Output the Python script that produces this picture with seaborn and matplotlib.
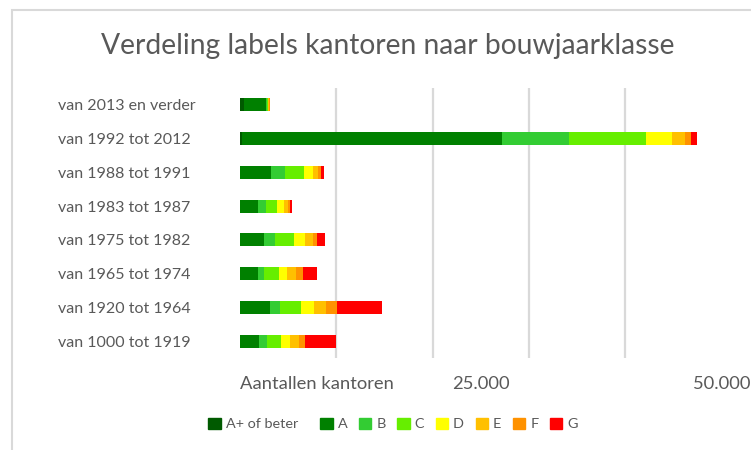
import numpy as np
import pandas as pd
import seaborn as sns
import matplotlib
matplotlib.use('Agg')
import matplotlib.pyplot as plt
from matplotlib.patches import Rectangle

categories = ['van 2013 en verder', 'van 1992 tot 2012', 'van 1988 tot 1991', 'van 1983 tot 1987',
              'van 1975 tot 1982', 'van 1965 tot 1974', 'van 1920 tot 1964', 'van 1000 tot 1919']
labels = ['A+ of beter', 'A', 'B', 'C', 'D', 'E', 'F', 'G']
colors = ['#005a00', '#008000', '#33cc33', '#66ee00', '#ffff00', '#ffc000', '#ff9200', '#ff0000']

a_plus = [415, 200, 0, 0, 0, 0, 0, 0]
a = [2280, 27020, 3220, 1870, 2490, 1870, 3110, 1970]
b = [140, 6950, 1480, 830, 1170, 620, 1040, 800]
c = [70, 7990, 1940, 1170, 1900, 1520, 2180, 1480]
d = [30, 2730, 970, 700, 1140, 900, 1310, 970]
e = [100, 1320, 520, 450, 860, 900, 1280, 930]
f = [50, 620, 280, 180, 415, 690, 1110, 650]
g = [20, 620, 340, 180, 860, 1450, 4670, 3210]

tick_vals = [0, 25000, 50000]
tick_text = ['Aantallen kantoren', '25.000', '50.000']

sns.set_style('white')
plt.rcParams['font.family'] = ['Lato', 'DejaVu Sans']
txt = '#595959'

df = pd.DataFrame(dict(zip(labels, [a_plus, a, b, c, d, e, f, g])), index=categories)
cum = df.cumsum(axis=1)

fig = plt.figure(figsize=(7.51, 4.5), dpi=100)
ax = fig.add_axes([240 / 751, 1 - 358 / 450, (721.5 - 240) / 751, 270 / 450])

# stacked bars: draw cumulative totals from the back to the front
for lab, col in zip(reversed(labels), reversed(colors)):
    sns.barplot(x=cum[lab].values, y=categories, color=col, orient='h', width=0.39,
                saturation=1, linewidth=0, ax=ax)

ax.set_xlim(0, 50000)
ax.set_ylim(7.5, -0.5)
ax.set_xticks(np.arange(0, 50001, 10000), minor=True)
ax.set_xticks(tick_vals)
ax.set_xticklabels(tick_text, color=txt, fontsize=13.2)
ax.get_xticklabels()[0].set_horizontalalignment('left')
ax.grid(which='minor', axis='x', color='#d9d9d9', linewidth=1.6)
ax.grid(which='major', visible=False)
ax.set_axisbelow(True)
ax.tick_params(axis='x', which='both', length=0, pad=13)
ax.tick_params(axis='y', length=0, pad=131, labelcolor=txt, labelsize=11.5)
for t in ax.get_yticklabels():
    t.set_horizontalalignment('left')
ax.set_xlabel('')
ax.set_ylabel('')
sns.despine(ax=ax, left=True, bottom=True)

fig.text(388 / 751, 1 - 46 / 450, 'Verdeling labels kantoren naar bouwjaarklasse',
         ha='center', va='center', fontsize=20.3, color=txt)

handles = [Rectangle((0, 0), 1, 1, color=col) for col in colors]
leg_labels = [labels[0] + '   '] + labels[1:]
fig.legend(handles, leg_labels, loc='center', bbox_to_anchor=(393 / 751, 1 - 424 / 450),
           ncol=8, frameon=False, fontsize=10.4, labelcolor=txt, handlelength=0.85, handleheight=0.85,
           handletextpad=0.35, columnspacing=0.8)

fig.add_artist(Rectangle((12 / 751, -0.1), 1.1, 1.1 - 10 / 450, transform=fig.transFigure,
                         fill=False, edgecolor='#d9d9d9', linewidth=1.5))

fig.savefig('out.png', dpi=100, facecolor='white')
